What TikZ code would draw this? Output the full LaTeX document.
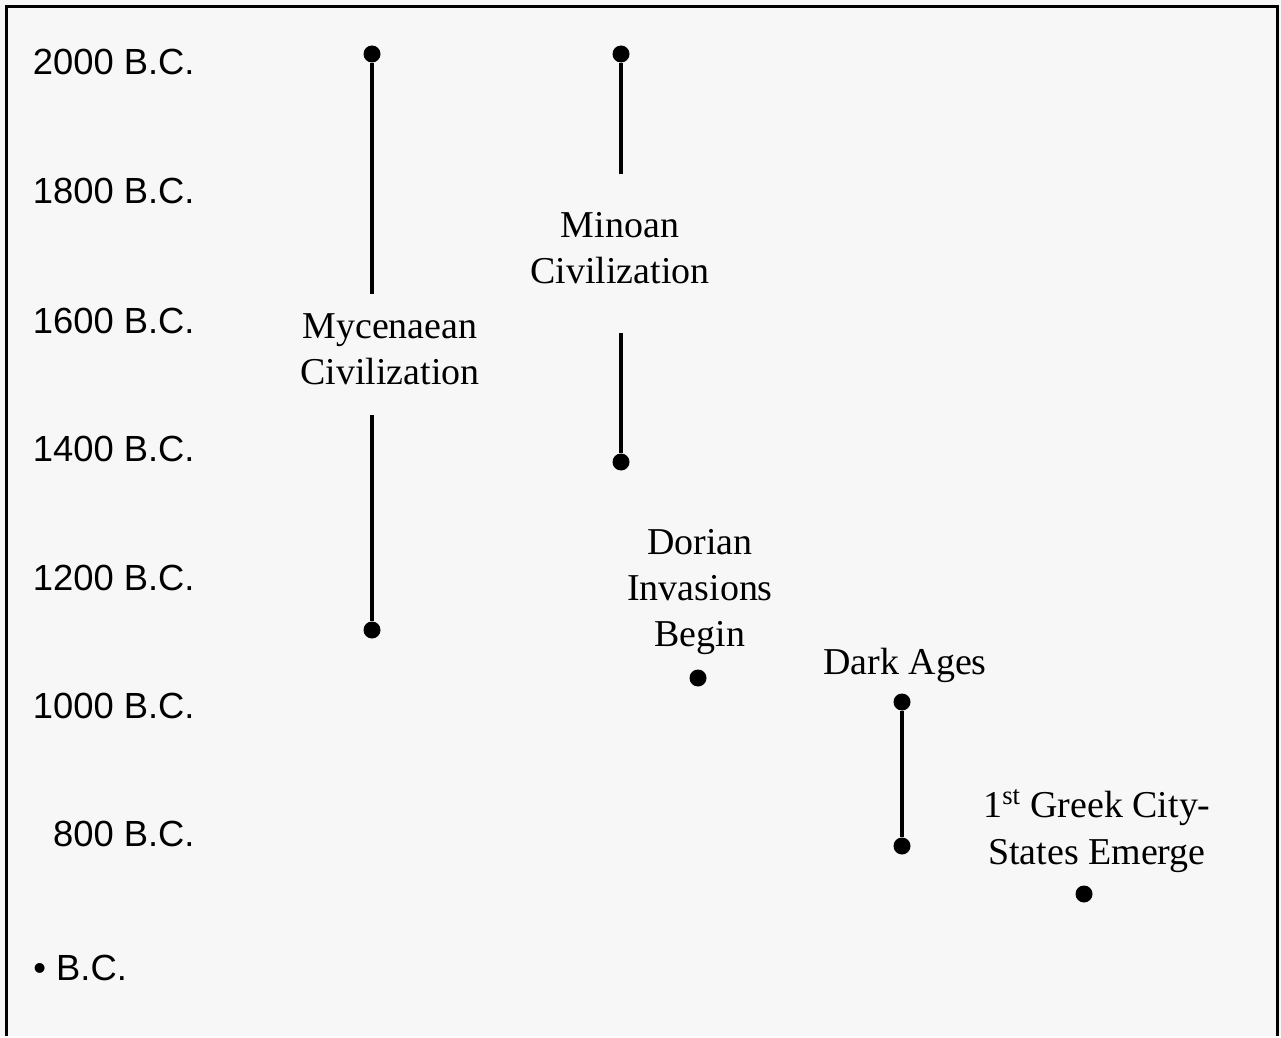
\documentclass[tikz,border=0pt]{standalone}
\usepackage{fontspec}
\setmainfont{Liberation Sans}
\newfontfamily\evfont{Liberation Serif}
\usetikzlibrary{positioning}
\definecolor{tlbg}{HTML}{F7F7F7}
\begin{document}
\begin{tikzpicture}[x=0.02cm,y=-0.02cm,
  yr/.style={font=\fontsize{20.7}{24}\selectfont,anchor=east,inner sep=0pt},
  ev/.style={font=\evfont\fontsize{21.6}{26.2}\selectfont,align=center,inner sep=0pt},
  dot/.style={circle,fill=black,inner sep=0pt,minimum size=0.34cm},
  bar/.style={line width=2pt}]
% background and frame
\fill[tlbg] (0,0) rectangle (1281,1036);
\draw[line width=1.7pt] (6.5,1036) -- (6.5,6.5) -- (1277.5,6.5) -- (1277.5,1036);
% years
\foreach \yr/\y in {2000/62,1800/191,1600/321,1400/449,1200/578,1000/706,800/834}
  \node[yr] (y\yr) at (195,\y) {\yr{} B.C.};
\node[yr,anchor=west] (bc) at (33,968) {• B.C.};
% dots
\node[dot] (myc1) at (372,54) {};
\node[dot] (myc2) at (372,630) {};
\node[dot] (min1) at (621,54) {};
\node[dot] (min2) at (621,462) {};
\node[dot] (dor) at (698,678) {};
\node[dot] (dark1) at (902,702) {};
\node[dot] (dark2) at (902,846) {};
\node[dot] (grk) at (1084,894) {};
% gap ends
\coordinate (myc1e) at (372,294);
\coordinate (myc2e) at (372,415);
\coordinate (min1e) at (621,174);
\coordinate (min2e) at (621,333);
% bars
\draw[bar] (myc1) -- (myc1e);
\draw[bar] (myc2e) -- (myc2);
\draw[bar] (min1) -- (min1e);
\draw[bar] (min2e) -- (min2);
\draw[bar] (dark1) -- (dark2);
% events
\node[ev] (myc) at (390,349.5) {Mycenaean\\Civilization};
\node[ev] (min) at (620,248.5) {Minoan\\Civilization};
\node[ev] (dorl) at (700,592) {Dorian\\Invasions\\Begin};
\node[ev] (darkl) at (905,665) {Dark Ages};
\node[ev] (grkl) at (1097,831) {1\textsuperscript{st} Greek City-\\States Emerge};
\end{tikzpicture}
\end{document}
